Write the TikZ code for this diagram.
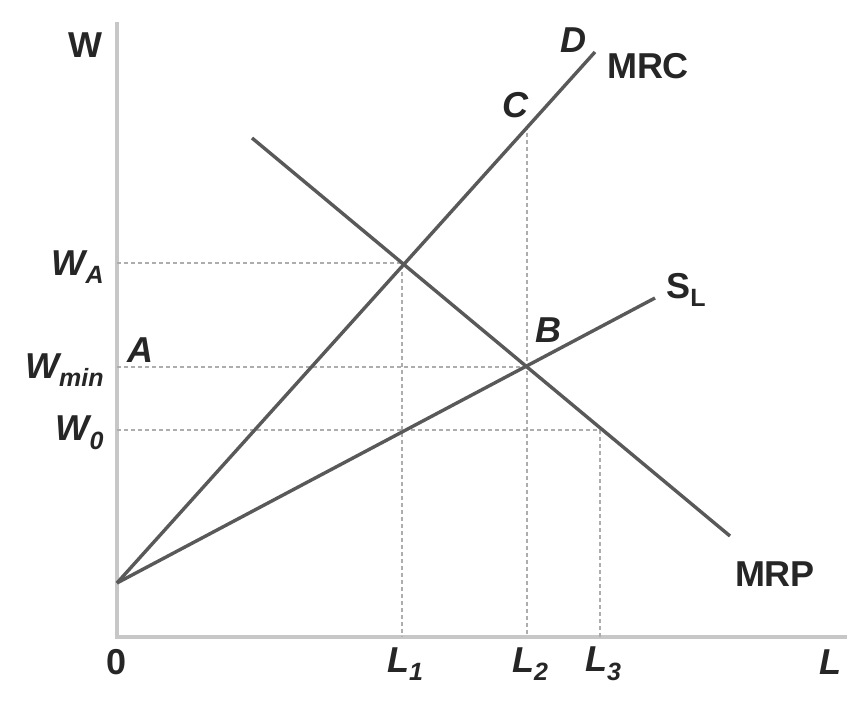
\documentclass[tikz,border=0pt]{standalone}
\usepackage{fontspec}
\setmainfont{Liberation Sans}
\newcommand{\lowidx}[1]{\raisebox{-0.45ex}{\fontsize{12.5}{12.5}\selectfont #1}}
\newcommand{\oX}{117}
\newcommand{\oY}{637}
\newcommand{\cutY}{583}

\begin{document}
\begin{tikzpicture}[x=0.5pt,y=-0.5pt,
    curve/.style={line width=1.7pt, black!65},
    axis/.style={line width=2.2pt, black!22},
    guide/.style={line width=1.3pt, black!32, dash pattern=on 2pt off 1.5pt},
    lbl/.style={font=\fontsize{18}{21}\selectfont\bfseries, text=black!85, inner sep=1pt},
    ilbl/.style={lbl, font=\fontsize{18}{21}\selectfont\bfseries\itshape}]

        \useasboundingbox (0,0) rectangle (868,706);

        % points on the graph
        \coordinate (O) at (\oX,\oY);
        \coordinate (top) at (\oX,22);
        \coordinate (right) at (847,\oY);
        \coordinate (cut) at (\oX,\cutY);
        \coordinate (E) at (402,263);
        \coordinate (Bpt) at (527,367);
        \coordinate (F) at (600,430);
        \coordinate (Cpt) at (527,126);
        \coordinate (Dend) at (595,52);
        \coordinate (Send) at (655,298);
        \coordinate (Pstart) at (252,138);
        \coordinate (Pend) at (730,536);

        % Draw the axes
        \draw[axis] (top) -- (O) -- (right);

        % Dotted guide lines
        \draw[guide] (E -| O) -- (E) -- (E |- O);
        \draw[guide] (Bpt -| O) -- (Bpt);
        \draw[guide] (Cpt) -- (Cpt |- O);
        \draw[guide] (F -| O) -- (F) -- (F |- O);

        % Draw the curves
        \draw[curve] (cut) -- (Dend);
        \draw[curve] (cut) -- (Send);
        \draw[curve] (Pstart) -- (Pend);

        % add labels
        \node[lbl] (wlab) at (85,45) {W};
        \node[ilbl, anchor=east] (walab) at (106,267) {W\lowidx{A}};
        \node[ilbl, anchor=east] (wminlab) at (106,370) {W\lowidx{min}};
        \node[ilbl, anchor=east] (w0lab) at (106,433) {W\lowidx{0}};
        \node[ilbl] (alab) at (140,350) {A};
        \node[ilbl] (blab) at (548,330) {B};
        \node[ilbl] (clab) at (515,105) {C};
        \node[ilbl] (dlab) at (573,40) {D};
        \node[lbl] (mrclab) at (648,66) {MRC};
        \node[lbl] (slab) at (686,290) {S\lowidx{L}};
        \node[lbl] (mrplab) at (775,574) {MRP};
        \node[lbl] (olab) at (117,662) {0};
        \node[ilbl] (l1lab) at (405,664) {L\lowidx{1}};
        \node[ilbl] (l2lab) at (530,664) {L\lowidx{2}};
        \node[ilbl] (l3lab) at (603,664) {L\lowidx{3}};
        \node[ilbl] (llab) at (830,662) {L};
    \end{tikzpicture}
\end{document}
